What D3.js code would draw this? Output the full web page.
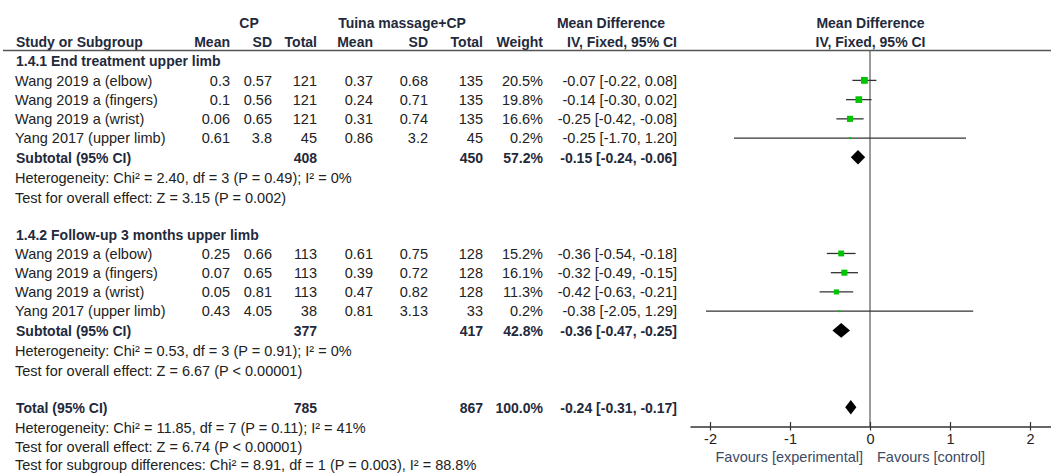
<!DOCTYPE html>
<html>
<head>
<meta charset="utf-8">
<script src="https://cdn.jsdelivr.net/npm/d3@7"></script>
<style>
  html, body { margin: 0; padding: 0; background: #fff; }
  svg { display: block; }
  text { font-family: "Liberation Sans", Arial, sans-serif; }
</style>
</head>
<body>
<svg id="chart" width="1051" height="474"></svg>
<script>
// ---------------- DATA ----------------
const studyNames = ["Wang 2019 a (elbow)", "Wang 2019 a (fingers)", "Wang 2019 a (wrist)", "Yang 2017 (upper limb)"];

const subgroupTitles = ["1.4.1 End treatment upper limb", "1.4.2 Follow-up 3 months upper limb"];

// Subgroup 1.4.1
const cpMean1 = [0.3, 0.1, 0.06, 0.61];
const cpSD1   = [0.57, 0.56, 0.65, 3.8];
const cpN1    = [121, 121, 121, 45];
const tMean1  = [0.37, 0.24, 0.31, 0.86];
const tSD1    = [0.68, 0.71, 0.74, 3.2];
const tN1     = [135, 135, 135, 45];
const weight1 = [20.5, 19.8, 16.6, 0.2];
const md1     = [-0.07, -0.14, -0.25, -0.25];
const lo1     = [-0.22, -0.30, -0.42, -1.70];
const hi1     = [0.08, 0.02, -0.08, 1.20];

// Subgroup 1.4.2
const cpMean2 = [0.25, 0.07, 0.05, 0.43];
const cpSD2   = [0.66, 0.65, 0.81, 4.05];
const cpN2    = [113, 113, 113, 38];
const tMean2  = [0.61, 0.39, 0.47, 0.81];
const tSD2    = [0.75, 0.72, 0.82, 3.13];
const tN2     = [128, 128, 128, 33];
const weight2 = [15.2, 16.1, 11.3, 0.2];
const md2     = [-0.36, -0.32, -0.42, -0.38];
const lo2     = [-0.54, -0.49, -0.63, -2.05];
const hi2     = [-0.18, -0.15, -0.21, 1.29];

// Subtotals / total: [cpN, tN, weight, md, lo, hi]
const subtotal1 = [408, 450, 57.2, -0.15, -0.24, -0.06];
const subtotal2 = [377, 417, 42.8, -0.36, -0.47, -0.25];
const overall   = [785, 867, 100.0, -0.24, -0.31, -0.17];

const hetero1 = "Heterogeneity: Chi\u00b2 = 2.40, df = 3 (P = 0.49); I\u00b2 = 0%";
const effect1 = "Test for overall effect: Z = 3.15 (P = 0.002)";
const hetero2 = "Heterogeneity: Chi\u00b2 = 0.53, df = 3 (P = 0.91); I\u00b2 = 0%";
const effect2 = "Test for overall effect: Z = 6.67 (P < 0.00001)";
const heteroT = "Heterogeneity: Chi\u00b2 = 11.85, df = 7 (P = 0.11); I\u00b2 = 41%";
const effectT = "Test for overall effect: Z = 6.74 (P < 0.00001)";
const subgroupDiff = "Test for subgroup differences: Chi\u00b2 = 8.91, df = 1 (P = 0.003), I\u00b2 = 88.8%";

const axisTicks = [-2, -1, 0, 1, 2];
const favoursLeft = "Favours [experimental]";
const favoursRight = "Favours [control]";

// ---------------- LAYOUT ----------------
const svg = d3.select("#chart");
const FS = 14.5, FSB = 14;
const normalColor = "#222", boldColor = "#1f2a3c";

const yRow = d3.scaleLinear().domain([0, 23]).range([22.7, 465]);
const x = d3.scaleLinear().domain([-2.25, 2.2625]).range([690, 1051]);
const boxSize = d3.scaleSqrt().domain([0, 20.5]).range([0, 6.8]);

const col = { cpMean: 230, cpSD: 272, cpN: 317, tMean: 373, tSD: 428, tN: 483, w: 543, ci: 677 };

function txt(xp, row, s, opts = {}) {
  return svg.append("text")
    .attr("x", xp).attr("y", yRow(row) + 5.3 + (opts.dy || 0))
    .attr("text-anchor", opts.anchor || "start")
    .attr("font-size", opts.bold ? FSB : FS)
    .attr("font-weight", opts.bold ? "bold" : "normal")
    .attr("fill", opts.color || (opts.bold ? boldColor : normalColor))
    .text(s);
}
const f2 = v => v.toFixed(2);
const ciText = (m, l, h) => `${f2(m)} [${f2(l)}, ${f2(h)}]`;

// Headers
txt(249, 0, "CP", { bold: true, anchor: "middle" });
txt(402, 0, "Tuina massage+CP", { bold: true, anchor: "middle" });
txt(611, 0, "Mean Difference", { bold: true, anchor: "middle" });
txt(870.5, 0, "Mean Difference", { bold: true, anchor: "middle" });
txt(16, 1, "Study or Subgroup", { bold: true });
txt(col.cpMean, 1, "Mean", { bold: true, anchor: "end" });
txt(col.cpSD, 1, "SD", { bold: true, anchor: "end" });
txt(col.cpN, 1, "Total", { bold: true, anchor: "end" });
txt(col.tMean, 1, "Mean", { bold: true, anchor: "end" });
txt(col.tSD, 1, "SD", { bold: true, anchor: "end" });
txt(col.tN, 1, "Total", { bold: true, anchor: "end" });
txt(col.w, 1, "Weight", { bold: true, anchor: "end" });
txt(col.ci, 1, "IV, Fixed, 95% CI", { bold: true, anchor: "end" });
txt(870.5, 1, "IV, Fixed, 95% CI", { bold: true, anchor: "middle" });

// header rule
svg.append("line").attr("x1", 3).attr("x2", 1051).attr("y1", 50.5).attr("y2", 50.5)
  .attr("stroke", "#555").attr("stroke-width", 1.3);

// zero line
svg.append("line").attr("x1", x(0)).attr("x2", x(0)).attr("y1", 50.5).attr("y2", 426.5)
  .attr("stroke", "#666").attr("stroke-width", 1.3);

const groups = [
  { start: 2, title: subgroupTitles[0], cpM: cpMean1, cpS: cpSD1, cpN: cpN1, tM: tMean1, tS: tSD1, tN: tN1, w: weight1, md: md1, lo: lo1, hi: hi1, sub: subtotal1, het: hetero1, eff: effect1 },
  { start: 11, title: subgroupTitles[1], cpM: cpMean2, cpS: cpSD2, cpN: cpN2, tM: tMean2, tS: tSD2, tN: tN2, w: weight2, md: md2, lo: lo2, hi: hi2, sub: subtotal2, het: hetero2, eff: effect2 }
];

const plot = svg.append("g");

function diamond(row, m, l, h) {
  const yc = yRow(row), hh = 7.3;
  plot.append("path")
    .attr("d", `M${x(l)},${yc} L${x(m)},${yc - hh} L${x(h)},${yc} L${x(m)},${yc + hh} Z`)
    .attr("fill", "#000");
}

groups.forEach(g => {
  txt(16, g.start, g.title, { bold: true });
  studyNames.forEach((name, i) => {
    const r = g.start + 1 + i;
    txt(15, r, name);
    txt(col.cpMean, r, String(g.cpM[i]), { anchor: "end" });
    txt(col.cpSD, r, String(g.cpS[i]), { anchor: "end" });
    txt(col.cpN, r, String(g.cpN[i]), { anchor: "end" });
    txt(col.tMean, r, String(g.tM[i]), { anchor: "end" });
    txt(col.tSD, r, String(g.tS[i]), { anchor: "end" });
    txt(col.tN, r, String(g.tN[i]), { anchor: "end" });
    txt(col.w, r, g.w[i].toFixed(1) + "%", { anchor: "end" });
    txt(col.ci, r, ciText(g.md[i], g.lo[i], g.hi[i]), { anchor: "end" });
    // CI line
    const yc = yRow(r);
    plot.append("line").attr("x1", x(g.lo[i])).attr("x2", x(g.hi[i]))
      .attr("y1", yc).attr("y2", yc).attr("stroke", "#333").attr("stroke-width", 1.3);
    const s = Math.max(2, boxSize(g.w[i]));
    plot.append("rect").attr("x", x(g.md[i]) - s / 2).attr("y", yc - s / 2)
      .attr("width", s).attr("height", s).attr("fill", "#00c400");
  });
  const sr = g.start + 5;
  txt(16, sr, "Subtotal (95% CI)", { bold: true });
  txt(col.cpN, sr, String(g.sub[0]), { bold: true, anchor: "end" });
  txt(col.tN, sr, String(g.sub[1]), { bold: true, anchor: "end" });
  txt(col.w, sr, g.sub[2].toFixed(1) + "%", { bold: true, anchor: "end" });
  txt(col.ci, sr, ciText(g.sub[3], g.sub[4], g.sub[5]), { bold: true, anchor: "end" });
  diamond(sr, g.sub[3], g.sub[4], g.sub[5]);
  txt(15, sr + 1, g.het, { dy: 1.5 });
  txt(15, sr + 2, g.eff, { dy: 1.5 });
});

// Total
txt(16, 20, "Total (95% CI)", { bold: true });
txt(col.cpN, 20, String(overall[0]), { bold: true, anchor: "end" });
txt(col.tN, 20, String(overall[1]), { bold: true, anchor: "end" });
txt(col.w, 20, overall[2].toFixed(1) + "%", { bold: true, anchor: "end" });
txt(col.ci, 20, ciText(overall[3], overall[4], overall[5]), { bold: true, anchor: "end" });
diamond(20, overall[3], overall[4], overall[5]);
txt(15, 21, heteroT, { dy: 1 });
txt(15, 22, effectT, { dy: 1 });
txt(15, 23, subgroupDiff);

// Axis
const axisY = 426.5;
const axisG = svg.append("g").attr("transform", `translate(0,${axisY})`)
  .call(d3.axisBottom(x).tickValues(axisTicks).tickSizeOuter(0).tickSizeInner(4)
    .tickPadding(3).tickFormat(d => String(d)));
axisG.select(".domain").attr("stroke", "#333").attr("stroke-width", 1.3);
axisG.selectAll(".tick line").attr("y1", -4.5).attr("y2", 4).attr("stroke", "#333").attr("stroke-width", 1.2);
axisG.selectAll(".tick text").attr("font-size", FS).attr("fill", normalColor)
  .attr("font-family", "Liberation Sans, Arial, sans-serif");

svg.append("text").attr("x", 863).attr("y", 462).attr("text-anchor", "end")
  .attr("font-size", FS).attr("fill", "#3c4a66").text(favoursLeft);
svg.append("text").attr("x", 877).attr("y", 462).attr("text-anchor", "start")
  .attr("font-size", FS).attr("fill", "#3c4a66").text(favoursRight);
</script>
</body>
</html>
